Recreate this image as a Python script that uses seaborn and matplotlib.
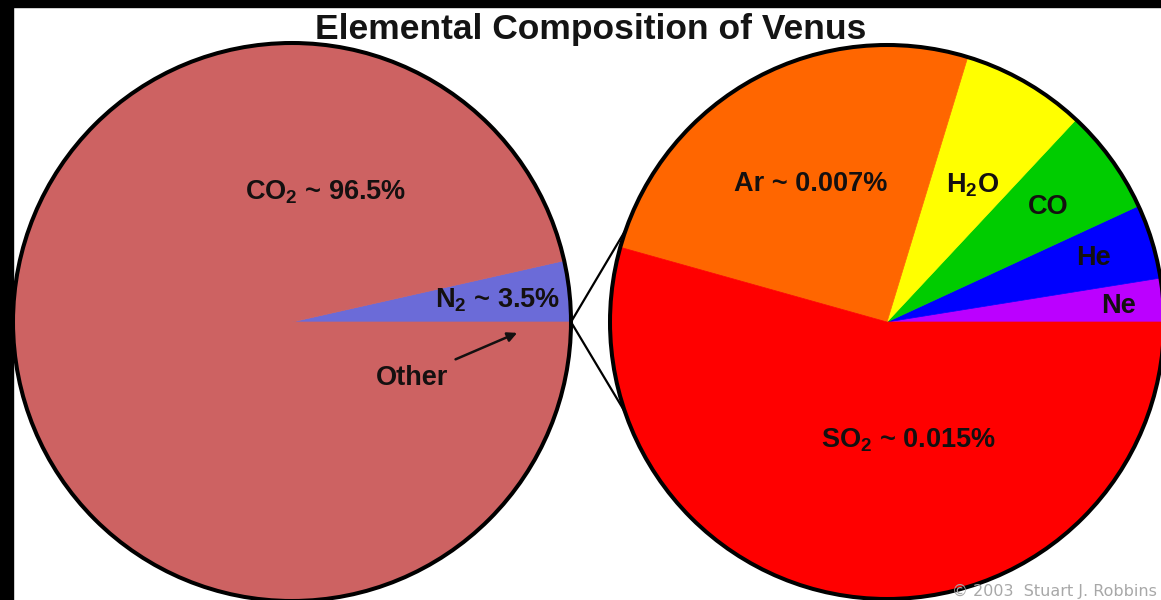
import numpy as np
import matplotlib
matplotlib.use("Agg")
import matplotlib.pyplot as plt
from matplotlib.patches import Circle, ConnectionPatch, Rectangle
import seaborn as sns

# Bulk atmosphere of Venus, percent by volume (counter-clockwise from 3 o'clock)
bulk_names = ["Other", "N$_2$", "CO$_2$"]
bulk_values = [0.0276, 3.5, 96.5]
bulk_colors = ["#6b6bd8", "#6b6bd8", "#cd6262"]

# Trace gases that make up "Other", percent by volume
trace_names = ["Ne", "He", "CO", "H$_2$O", "Ar", "SO$_2$"]
trace_values = [0.0007, 0.0012, 0.0017, 0.002, 0.007, 0.015]
trace_colors = ["#bb00ff", "#0000ff", "#00cc00", "#ffff00", "#ff6600", "#ff0000"]
trace_show_value = [False, False, False, False, True, True]

sns.set_theme(style="white")
plt.rcParams["font.family"] = ["Liberation Sans", "DejaVu Sans"]
plt.rcParams["mathtext.fontset"] = "custom"
plt.rcParams["mathtext.bf"] = "Liberation Sans:bold"
plt.rcParams["mathtext.rm"] = "Liberation Sans:bold"
plt.rcParams["mathtext.default"] = "bf"

W, H = 1161, 600
fig = plt.figure(figsize=(W / 100, H / 100), dpi=100, facecolor="white")

# black strips along the left and top edges
fig.add_artist(Rectangle((0, 0), 13 / W, 1, transform=fig.transFigure,
                         color="black", zorder=0))
fig.add_artist(Rectangle((0, 1 - 7 / H), 1, 7 / H, transform=fig.transFigure,
                         color="black", zorder=0))


def pie_axes(cx, cy, r):
    ax = fig.add_axes([(cx - r) / W, (H - cy - r) / H, 2 * r / W, 2 * r / H])
    ax.set_xlim(-1, 1)
    ax.set_ylim(-1, 1)
    ax.axis("off")
    return ax


def draw_pie(ax, values, colors):
    wedges, _ = ax.pie(values, colors=colors, startangle=0, counterclock=True,
                       radius=1)
    for w in wedges:
        w.set_edgecolor(w.get_facecolor())
        w.set_linewidth(0.5)
    ax.set_xlim(-1, 1)
    ax.set_ylim(-1, 1)
    ax.set_aspect("equal")
    ax.add_patch(Circle((0, 0), 1, fill=False, ec="black", lw=2.9,
                        clip_on=False))


ax_l = pie_axes(292, 322, 279)
ax_r = pie_axes(887, 322, 277)

text_kw = dict(ha="center", va="center", fontsize=19.5, fontweight="bold",
               color="#141010")

# left pie: bulk composition
draw_pie(ax_l, bulk_values, bulk_colors)
ax_l.text(0.121, 0.464, f"{bulk_names[2]} ~ {bulk_values[2]:g}%", **text_kw)
ax_l.text(0.736, 0.079, f"{bulk_names[1]} ~ {bulk_values[1]:g}%", **text_kw)
ax_l.annotate(bulk_names[0], xy=(0.807, -0.039), xytext=(0.432, -0.2),
              arrowprops=dict(arrowstyle="-|>", color="#141010", lw=1.8,
                              mutation_scale=14, shrinkA=4, shrinkB=0),
              **text_kw)

# right pie: breakdown of "Other"
draw_pie(ax_r, trace_values, trace_colors)

trace_pos = [(0.834, 0.058), (0.747, 0.231), (0.581, 0.415),
             (0.310, 0.495), (-0.274, 0.498), (0.079, -0.426)]
for name, val, show, (x, y) in zip(trace_names, trace_values,
                                   trace_show_value, trace_pos):
    label = f"{name} ~ {val:g}%" if show else name
    ax_r.text(x, y, label, **text_kw)

# lines linking the "Other" sliver to the breakdown pie
for ang in (160.5, 199.0):
    a = np.deg2rad(ang)
    con = ConnectionPatch(xyA=(1, 0), coordsA=ax_l.transData,
                          xyB=(np.cos(a), np.sin(a)), coordsB=ax_r.transData,
                          color="black", lw=1.6, zorder=5)
    fig.add_artist(con)

fig.text(591 / W, 1 - 29 / H, "Elemental Composition of Venus", ha="center",
         va="center", fontsize=25.5, fontweight="bold", color="#141414", zorder=6)

fig.text(1157 / W, 1 - 591 / H, "\u00a9 2003  Stuart J. Robbins", ha="right",
         va="center", fontsize=11.5, color="#a8a8a8",
         family=["DejaVu Sans"], zorder=6)

fig.savefig("out.png", dpi=100, facecolor="white")
